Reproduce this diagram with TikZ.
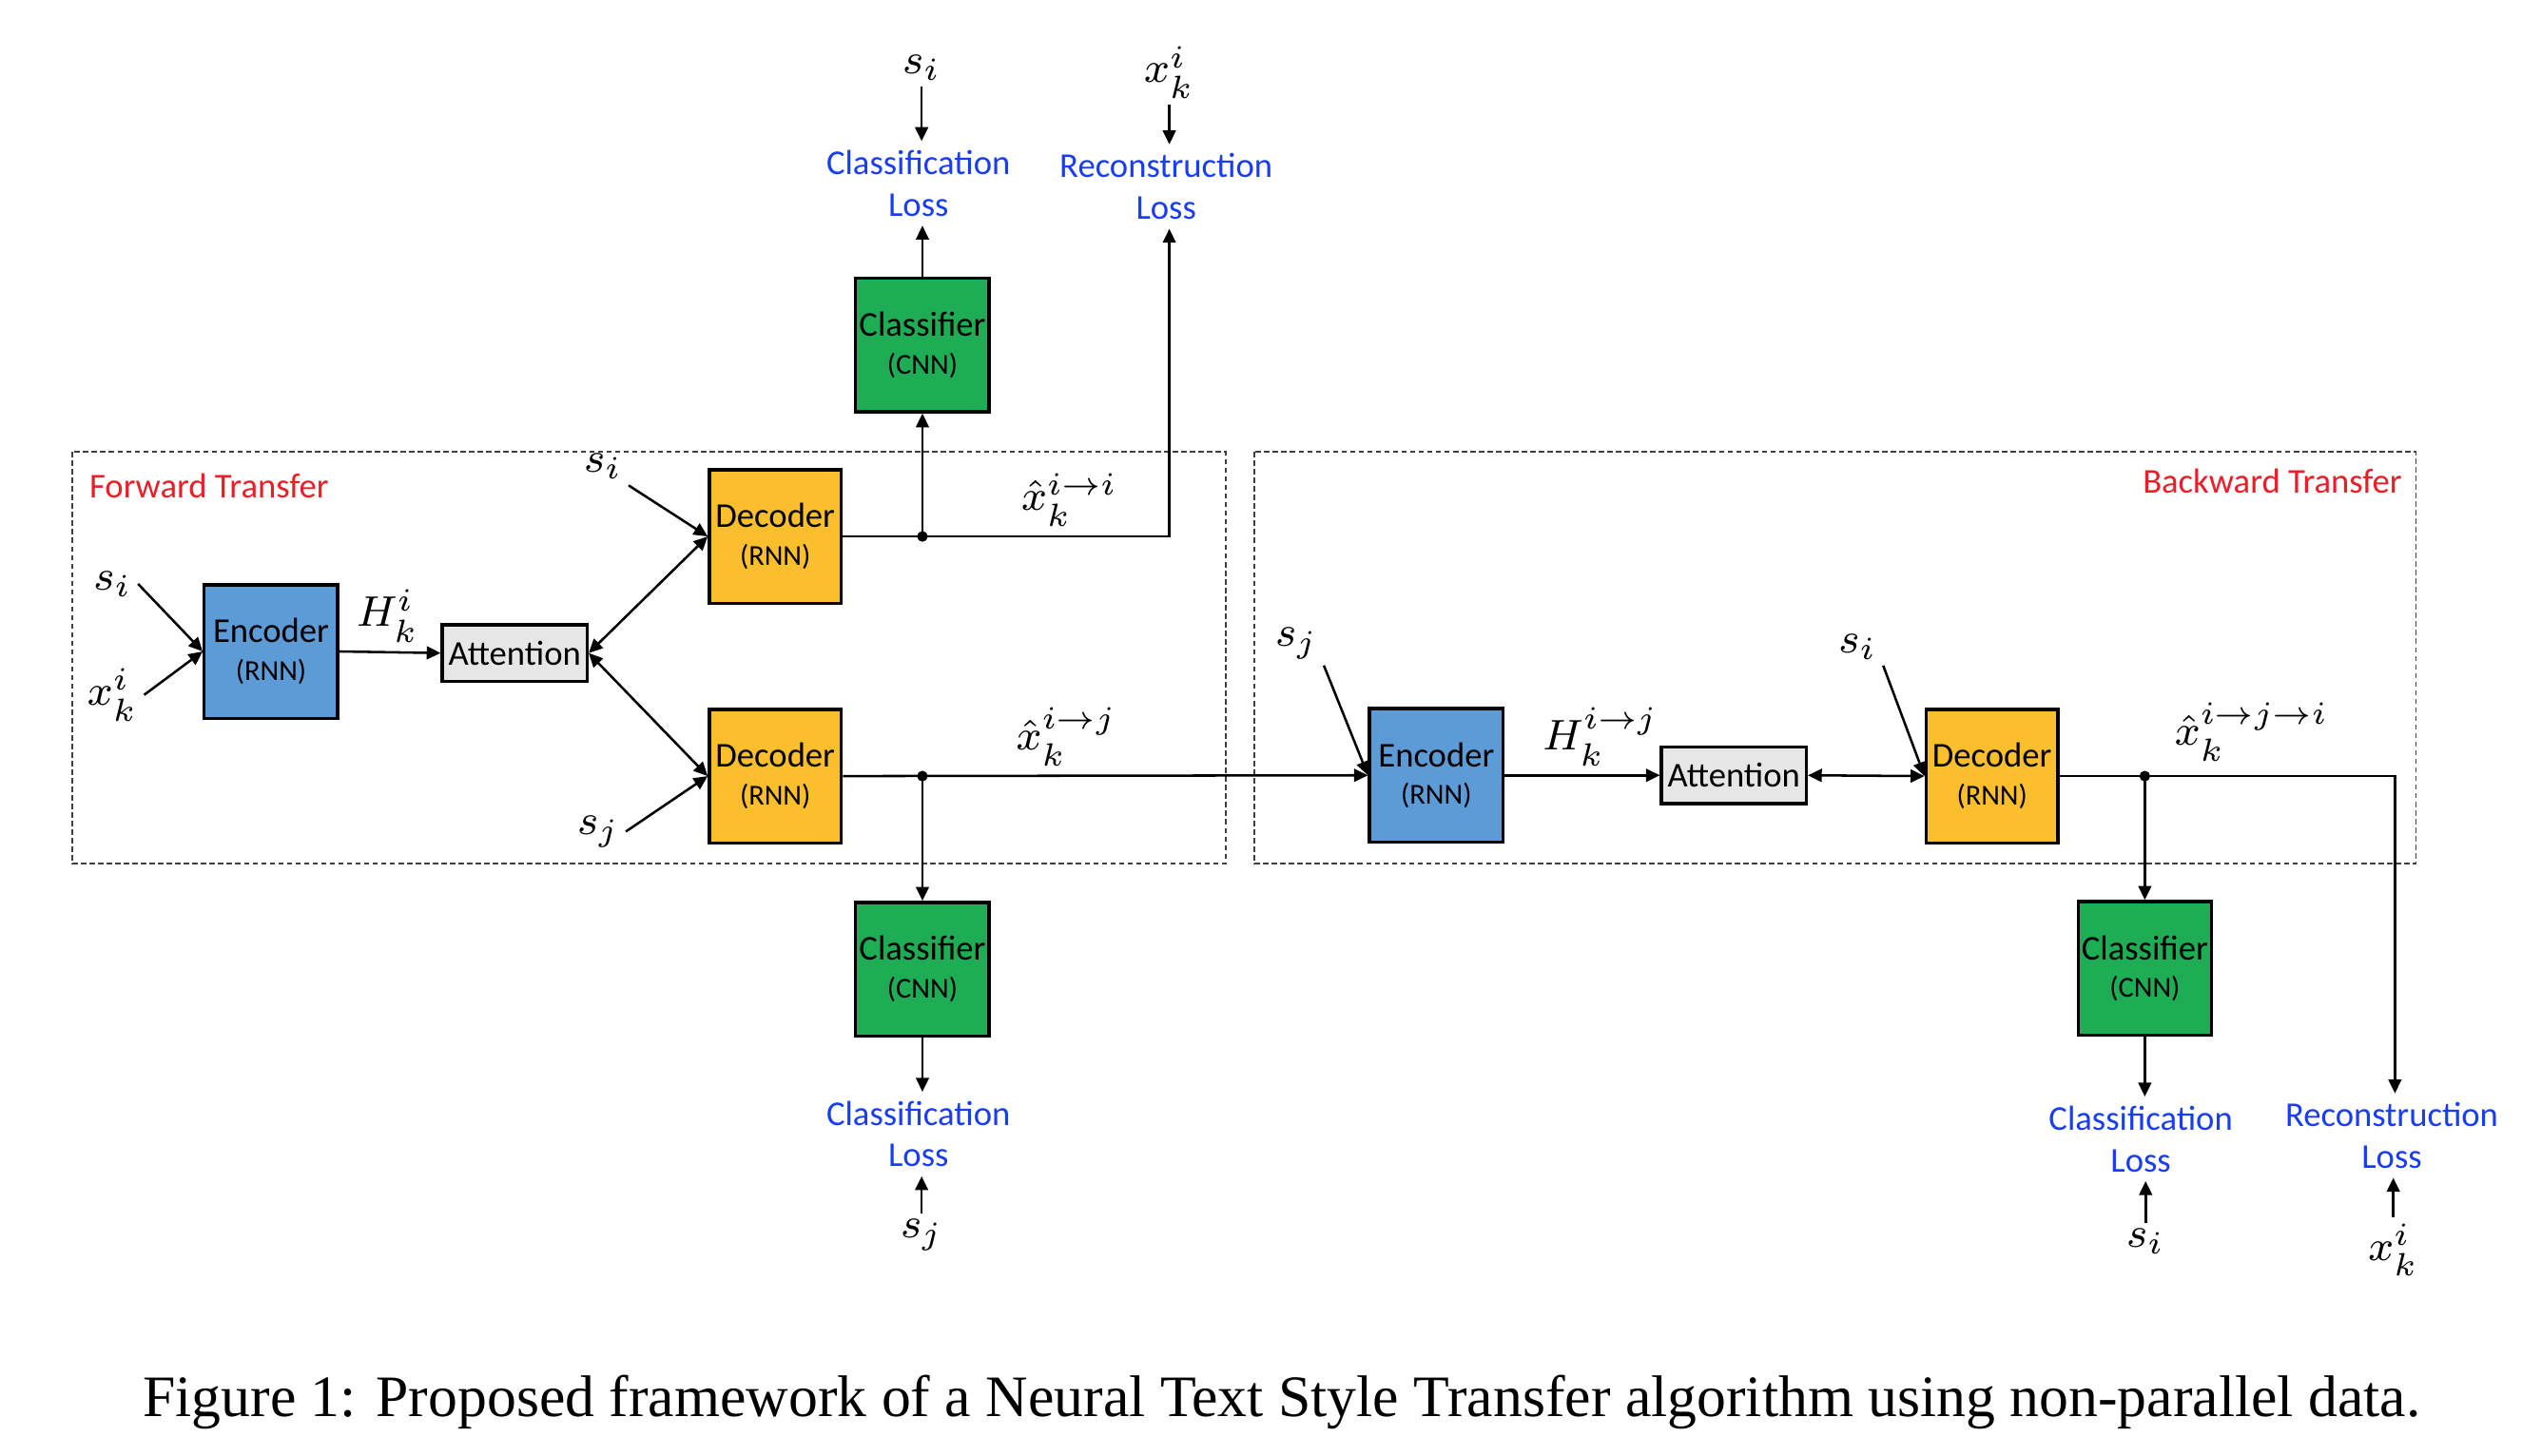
\documentclass[tikz,border=0pt]{standalone}
\usepackage{fontspec}
\setmainfont{Liberation Serif}
\setsansfont{Carlito}
\usepackage{tikz}
\usetikzlibrary{arrows.meta}
\definecolor{enc_blue}{RGB}{92,155,213}
\definecolor{dec_yellow}{RGB}{251,190,45}
\definecolor{cls_green}{RGB}{30,173,84}
\definecolor{att_gray}{RGB}{231,230,230}
\definecolor{title_red}{RGB}{235,30,40}
\definecolor{loss_blue}{RGB}{25,60,245}
\newcommand{\boxtext}[2]{#1\\[-0.6pt]{\fontsize{5.4}{6.4}\selectfont(#2)}}
\tikzstyle{base_box} = [draw, line width = 0.6pt, inner sep = 0, align = center, font = \sffamily\fontsize{6.5}{7.6}\selectfont]
\tikzstyle{encoder_box} = [base_box, fill = enc_blue, minimum width = 24.9pt, minimum height = 24.9pt]
\tikzstyle{decoder_box} = [base_box, fill = dec_yellow, minimum width = 24.6pt, minimum height = 24.9pt]
\tikzstyle{classifier_box} = [base_box, fill = cls_green, minimum width = 24.9pt, minimum height = 24.9pt]
\tikzstyle{attention_box} = [base_box, fill = att_gray, minimum width = 27pt, minimum height = 10.5pt]
\tikzstyle{sym_label} = [inner sep = 1pt, font = \fontsize{8}{9}\selectfont]
\tikzstyle{loss_label} = [inner sep = 1.5pt, align = center, text = loss_blue, font = \sffamily\fontsize{6.5}{7.8}\selectfont]
\tikzstyle{transfer_title} = [inner sep = 0, text = title_red, font = \sffamily\fontsize{6.5}{7.8}\selectfont]
\tikzstyle{transfer_frame} = [draw = black!75, line width = 0.3pt, dash pattern = on 1pt off 0.6pt]
\tikzstyle{junction_dot} = [circle, fill, inner sep = 0, minimum size = 2pt]
\tikzstyle{flow} = [line width = 0.45pt, -{Triangle[length = 2.6pt, width = 2.4pt]}]
\tikzstyle{two_way_flow} = [line width = 0.45pt, {Triangle[length = 2.6pt, width = 2.4pt]}-{Triangle[length = 2.6pt, width = 2.4pt]}]
\begin{document}
\begin{tikzpicture}[x = 0.3pt, y = -0.3pt]
    \useasboundingbox (0,0) rectangle (1568,905);

    % frames of the two transfers
    \draw [transfer_frame] (45,281) rectangle (762,537);
    \draw [transfer_frame] (780,281) rectangle (1502,537);
    \node [style = {transfer_title}, anchor = west] (fw_title) at (55,302) {Forward Transfer};
    \node [style = {transfer_title}, anchor = east] (bw_title) at (1494,299) {Backward Transfer};

    % forward transfer
    \node [style = {encoder_box}] (enc_fw) at (168.5,405) {\boxtext{Encoder}{RNN}};
    \node [style = {attention_box}] (att_fw) at (320,406) {Attention};
    \node [style = {decoder_box}] (dec_fw_ii) at (482,333.5) {\boxtext{Decoder}{RNN}};
    \node [style = {decoder_box}] (dec_fw_ij) at (482,482.5) {\boxtext{Decoder}{RNN}};
    \node [style = {classifier_box}] (cls_fw_ii) at (573.5,214.5) {\boxtext{Classifier}{CNN}};
    \node [style = {classifier_box}] (cls_fw_ij) at (573.5,602.5) {\boxtext{Classifier}{CNN}};

    \node [style = {sym_label}] (s_enc_fw) at (70,363) {$s_i$};
    \node [style = {sym_label}] (x_enc_fw) at (70,432) {$x_k^i$};
    \node [style = {sym_label}] (h_fw) at (241,383) {$H_k^i$};
    \node [style = {sym_label}] (s_dec_fw_ii) at (375,290) {$s_i$};
    \node [style = {sym_label}] (s_dec_fw_ij) at (372,517) {$s_j$};
    \node [style = {sym_label}] (xhat_ii) at (665,311) {$\hat{x}_k^{i\rightarrow i}$};
    \node [style = {sym_label}] (xhat_ij) at (663,458) {$\hat{x}_k^{i\rightarrow j}$};

    \node [style = {junction_dot}] (dot_fw_ii) at (573.5,333.5) {};
    \node [style = {junction_dot}] (dot_fw_ij) at (573.5,482.5) {};
    \coordinate (turn_fw_ii) at (727,333.5);

    % losses of the forward transfer
    \node [style = {loss_label}] (cls_loss_fw_ii) at (571,114) {Classification\\Loss};
    \node [style = {loss_label}] (rec_loss_fw_ii) at (725,116) {Reconstruction\\Loss};
    \node [style = {sym_label}] (s_loss_fw_ii) at (573,42) {$s_i$};
    \node [style = {sym_label}] (x_loss_fw_ii) at (727,45) {$x_k^i$};
    \node [style = {loss_label}] (cls_loss_fw_ij) at (571,705) {Classification\\Loss};
    \node [style = {sym_label}] (s_loss_fw_ij) at (573,768) {$s_j$};

    % backward transfer
    \node [style = {encoder_box}] (enc_bw) at (893,482) {\boxtext{Encoder}{RNN}};
    \node [style = {attention_box}] (att_bw) at (1078,482) {Attention};
    \node [style = {decoder_box}] (dec_bw) at (1238.5,482.5) {\boxtext{Decoder}{RNN}};
    \node [style = {classifier_box}] (cls_bw) at (1333.5,602) {\boxtext{Classifier}{CNN}};

    \node [style = {sym_label}] (s_enc_bw) at (806,400) {$s_j$};
    \node [style = {sym_label}] (h_bw) at (995,458) {$H_k^{i\rightarrow j}$};
    \node [style = {sym_label}] (s_dec_bw) at (1155,402) {$s_i$};
    \node [style = {sym_label}] (xhat_iji) at (1400,455) {$\hat{x}_k^{i\rightarrow j\rightarrow i}$};

    \node [style = {junction_dot}] (dot_bw) at (1333.5,482.5) {};
    \coordinate (turn_bw) at (1489,482.5);

    % losses of the backward transfer
    \node [style = {loss_label}] (cls_loss_bw) at (1331,708) {Classification\\Loss};
    \node [style = {loss_label}] (rec_loss_bw) at (1487,706) {Reconstruction\\Loss};
    \node [style = {sym_label}] (s_loss_bw) at (1334,772) {$s_i$};
    \node [style = {sym_label}] (x_loss_bw) at (1488,777) {$x_k^i$};

    % connectors
    \draw [flow] (s_enc_fw.east) -- (enc_fw.west);
    \draw [flow] (x_enc_fw.east) -- (enc_fw.west);
    \draw [flow] (enc_fw.east) -- (att_fw.west);
    \draw [two_way_flow] (att_fw.east) -- (dec_fw_ii.west);
    \draw [two_way_flow] (att_fw.east) -- (dec_fw_ij.west);
    \draw [flow] (s_dec_fw_ii.south east) -- (dec_fw_ii.west);
    \draw [flow] (s_dec_fw_ij.east) -- (dec_fw_ij.west);
    \draw [flow] (dec_fw_ii.east) -- (turn_fw_ii) -- (turn_fw_ii |- rec_loss_fw_ii.south);
    \draw [flow] (dot_fw_ii.center) -- (cls_fw_ii.south);
    \draw [flow] (cls_fw_ii.north) -- (cls_loss_fw_ii.south -| cls_fw_ii.north);
    \draw [flow] (s_loss_fw_ii.south) -- (cls_loss_fw_ii.north -| s_loss_fw_ii.south);
    \draw [flow] (x_loss_fw_ii.south) -- (rec_loss_fw_ii.north -| x_loss_fw_ii.south);
    \draw [flow] (dec_fw_ij.east) -- (enc_bw.west);
    \draw [flow] (dot_fw_ij.center) -- (cls_fw_ij.north);
    \draw [flow] (cls_fw_ij.south) -- (cls_loss_fw_ij.north -| cls_fw_ij.south);
    \draw [flow] (s_loss_fw_ij.north) -- (cls_loss_fw_ij.south -| s_loss_fw_ij.north);

    \draw [flow] (s_enc_bw.south east) -- (enc_bw.west);
    \draw [flow] (enc_bw.east) -- (att_bw.west);
    \draw [two_way_flow] (att_bw.east) -- (dec_bw.west);
    \draw [flow] (s_dec_bw.south east) -- (dec_bw.west);
    \draw [flow] (dec_bw.east) -- (turn_bw) -- (turn_bw |- rec_loss_bw.north);
    \draw [flow] (dot_bw.center) -- (cls_bw.north);
    \draw [flow] (cls_bw.south) -- (cls_loss_bw.north -| cls_bw.south);
    \draw [flow] (s_loss_bw.north) -- (cls_loss_bw.south -| s_loss_bw.north);
    \draw [flow] (x_loss_bw.north) -- (rec_loss_bw.south -| x_loss_bw.north);

    % caption
    \node [inner sep = 0, font = \fontsize{10.95}{13}\selectfont] (caption) at (797,872) {Figure 1: Proposed framework of a Neural Text Style Transfer algorithm using non-parallel data.};
\end{tikzpicture}
\end{document}
